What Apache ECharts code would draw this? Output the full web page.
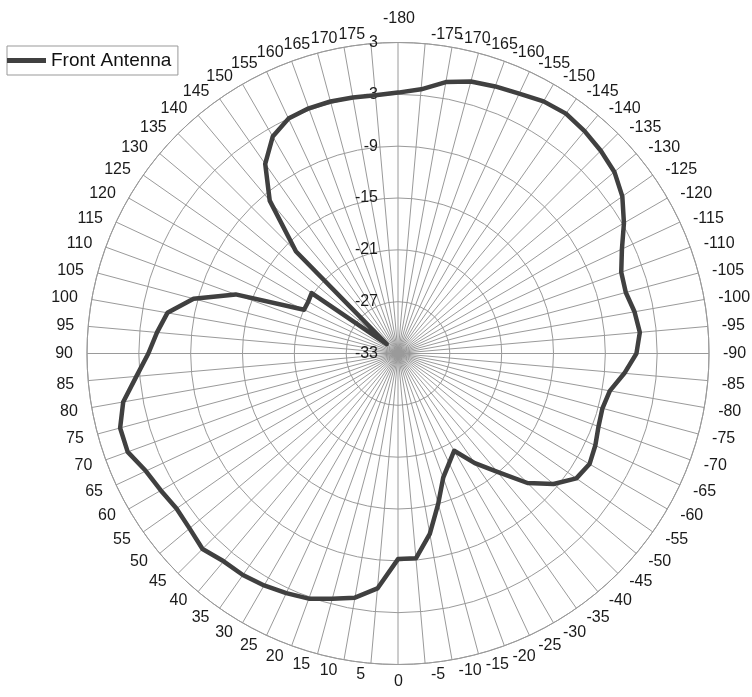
<!DOCTYPE html>
<html><head><meta charset="utf-8">
<script src="https://cdn.jsdelivr.net/npm/echarts@6/dist/echarts.min.js"></script>
<style>html,body{margin:0;padding:0;background:#fff}#c{width:752px;height:697px}</style>
</head><body><div id="c"></div>
<script>
// ---- data ----
const seriesName = 'Front Antenna';
const angles = [-180,-175,-170,-165,-160,-155,-150,-145,-140,-135,-130,-125,-120,-115,-110,-105,-100,-95,-90,-85,-80,-75,-70,-65,-60,-55,-50,-45,-40,-35,-30,-25,-20,-15,-10,-5,0,5,10,15,20,25,30,35,40,45,50,55,60,65,70,75,80,85,90,95,100,105,110,115,120,125,130,135,140,145,150,155,160,165,170,175,180];
const gain = [-2.8,-2.3,-1.1,-0.4,-0.1,0.2,0.7,0.9,0.6,0.2,-0.3,-1.3,-2.8,-4.4,-5.5,-5.7,-5.2,-4.9,-5.4,-6.7,-8.1,-8.5,-8.3,-7.8,-7.4,-7.8,-9.5,-11.8,-15.1,-17.5,-20.0,-19.0,-17.7,-15.0,-11.8,-9.2,-9.2,-5.7,-4.3,-3.6,-2.8,-2.4,-2.0,-1.7,-1.6,-1.0,-1.5,-1.7,-1.3,-0.8,0.3,0.3,-0.7,-2.6,-4.1,-5.0,-5.9,-8.5,-13.0,-21.0,-21.0,-20.8,-31.3,-16.3,-9.9,-6.2,-4.0,-3.0,-2.8,-2.8,-2.9,-3.0,-2.8];
const radialTicks = [-33,-27,-21,-15,-9,-3,3];
const angleTickStep = 5;

// ---- layout ----
const CX = 398, CY = 353.5, R = 311;
const FONT = '"Liberation Sans", Arial, sans-serif';
const TXT = '#1a1a1a';
const GRID = '#9a9a9a';
const LH = 16;

// per-label placement (Excel-like label offsets around the rim)
const mctx = document.createElement('canvas').getContext('2d');
mctx.font = '16px ' + FONT;
const rich = {};
for (let a = -180; a < 180; a += angleTickStep) {
  const t = String(a);
  const w = mctx.measureText(t).width;
  const rad = a * Math.PI / 180;
  const s = Math.sin(rad), c = Math.cos(rad);
  const px = CX - R * s, py = CY + R * c;
  let gx, dy;
  if (a === -180) { gx = px + 1; }
  else if (a === 0) { gx = px + 0.5; }
  else {
    const hg = 5 + 9 * Math.abs(s);
    gx = a < 0 ? px + hg + w / 2 : px - hg - w / 2;
  }
  if (a === -180) dy = -24;
  else if (a === 0) dy = 17;
  else if (Math.abs(a) === 90) dy = 0.5;
  else if (Math.abs(a) > 90) dy = -9 * Math.abs(c);
  else dy = 3 + 8 * Math.abs(c);
  const gy = py + dy;
  const ax = Math.abs(s) < 0.3 ? 'center' : (a < 0 ? 'left' : 'right');
  const ay = Math.abs(c) < 0.3 ? 'middle' : (c < 0 ? 'bottom' : 'top');
  let pl = 0, pr = 0, pt = 0, pb = 0;
  if (ax === 'left') pl = gx - px - w / 2;
  else if (ax === 'right') pr = px - gx - w / 2;
  else { const d = gx - px; if (d > 0) pl = 2 * d; else pr = -2 * d; }
  const boxC = ay === 'bottom' ? py - LH / 2 : (ay === 'top' ? py + LH / 2 : py);
  const dv = gy - boxC;
  if (dv > 0) pt = 2 * dv; else pb = -2 * dv;
  rich['a' + (a + 180)] = {
    fontSize: 16, fontFamily: FONT, color: TXT, lineHeight: LH,
    padding: [Math.max(0, pt), Math.max(0, pr), Math.max(0, pb), Math.max(0, pl)]
  };
}

const chart = echarts.init(document.getElementById('c'), null, {renderer: 'canvas'});
chart.setOption({
  animation: false,
  backgroundColor: '#fff',
  legend: {
    data: [seriesName],
    left: 7, top: 46,
    orient: 'horizontal',
    icon: 'rect',
    itemWidth: 39, itemHeight: 5,
    padding: [5, 6.5, 5, 0],
    borderColor: '#999', borderWidth: 1, backgroundColor: '#fff',
    textStyle: {fontSize: 19, fontFamily: FONT, color: '#111', lineHeight: 18}
  },
  polar: {center: [CX, CY], radius: R},
  angleAxis: {
    type: 'value', min: -180, max: 180, interval: angleTickStep,
    startAngle: 90, clockwise: true,
    axisLine: {show: true, lineStyle: {color: GRID, width: 1}},
    axisTick: {show: false},
    splitLine: {show: true, lineStyle: {color: GRID, width: 1}},
    axisLabel: {
      show: true, margin: 0, fontSize: 16, fontFamily: FONT, color: TXT,
      formatter: function (v) {
        const a = Math.round(v);
        if (a >= 180) return '';
        return '{a' + (a + 180) + '|' + a + '}';
      },
      rich: rich
    }
  },
  radiusAxis: {
    type: 'value', min: radialTicks[0], max: radialTicks[radialTicks.length - 1],
    interval: radialTicks[1] - radialTicks[0],
    axisLine: {show: false},
    axisTick: {show: false},
    splitLine: {show: true, lineStyle: {color: GRID, width: 1}},
    axisLabel: {show: true, margin: 20, fontSize: 16, fontFamily: FONT, color: TXT, showMinLabel: true, showMaxLabel: true}
  },
  series: [{
    name: seriesName,
    type: 'line',
    coordinateSystem: 'polar',
    showSymbol: false,
    symbol: 'none',
    color: '#404040',
    lineStyle: {color: '#404040', width: 4.5, join: 'round', cap: 'round'},
    data: angles.map((a, i) => [gain[i], a])
  }]
});
</script>
</body></html>
